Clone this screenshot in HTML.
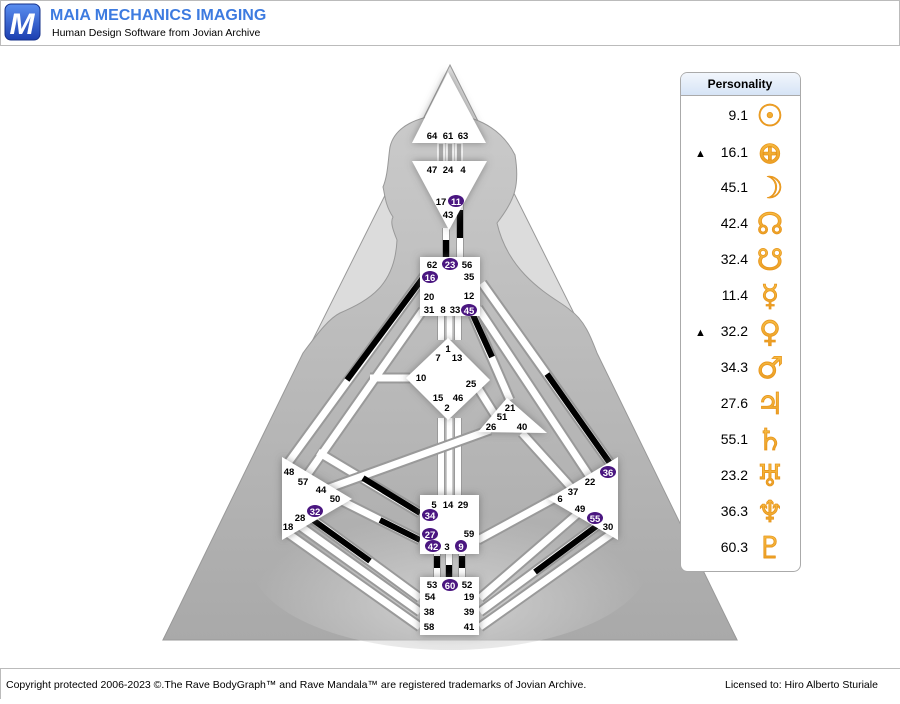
<!DOCTYPE html>
<html><head><meta charset="utf-8"><style>
body{margin:0;width:900px;height:699px;background:#fff;overflow:hidden;font-family:"Liberation Sans",sans-serif;}
</style></head><body>
<svg width="900" height="699" viewBox="0 0 900 699" xmlns="http://www.w3.org/2000/svg" font-family="Liberation Sans, sans-serif">
<defs>
<linearGradient id="lg" x1="0" y1="0" x2="0" y2="1"><stop offset="0" stop-color="#5a8ef0"/><stop offset="1" stop-color="#1c3fb0"/></linearGradient>
<linearGradient id="bd" x1="0" y1="0" x2="0" y2="1"><stop offset="0" stop-color="#cacaca"/><stop offset="1" stop-color="#a9a9a9"/></linearGradient>
<radialGradient id="rg" cx="0.5" cy="0.75" r="0.5"><stop offset="0" stop-color="#d0d0d0"/><stop offset="1" stop-color="#d0d0d0" stop-opacity="0"/></radialGradient>
<linearGradient id="ph" x1="0" y1="0" x2="0" y2="1"><stop offset="0" stop-color="#f2f6fc"/><stop offset="1" stop-color="#d6e4f6"/></linearGradient>
<linearGradient id="or" x1="0" y1="0" x2="0" y2="1"><stop offset="0" stop-color="#f9c24a"/><stop offset="1" stop-color="#e8961c"/></linearGradient>
<filter id="sh" x="-30%" y="-30%" width="160%" height="160%"><feDropShadow dx="0" dy="0" stdDeviation="4" flood-color="#555" flood-opacity="0.6"/></filter>
</defs>
<rect x="0.5" y="0.5" width="899" height="45" fill="#fff" stroke="#bbb"/>
<rect x="5" y="4" width="35" height="36" rx="6" fill="url(#lg)" stroke="#15308a"/>
<text x="22" y="34" font-size="30" font-weight="bold" fill="#fff" text-anchor="middle" font-style="italic">M</text>
<text x="50" y="20" font-size="16" font-weight="bold" fill="#3d7be0">MAIA MECHANICS IMAGING</text>
<text x="52" y="36" font-size="10.5" fill="#000">Human Design Software from Jovian Archive</text>
<line x1="0" y1="668.5" x2="900" y2="668.5" stroke="#bbb"/>
<line x1="0.5" y1="668" x2="0.5" y2="699" stroke="#bbb"/>
<text x="6" y="688" font-size="10.5" fill="#000">Copyright protected 2006-2023 ©.The Rave BodyGraph™ and Rave Mandala™ are registered trademarks of Jovian Archive.</text>
<text x="725" y="688" font-size="10.5" fill="#000">Licensed to: Hiro Alberto Sturiale</text>

<polygon points="450,65 737,640 163,640" fill="#dcdcdc" stroke="#999"/>
<path d="M303,353 C320,330 330,318 340,313 C370,300 395,285 397,240 C393,230 390,222 393,217 C385,205 385,195 383,187 C388,175 388,160 390,147 C395,125 420,117 440,115 C470,113 500,125 515,155 C520,185 515,200 497,223 C510,280 560,300 570,310 C585,320 592,340 597,353 L737,640 L163,640 Z" fill="url(#bd)" stroke="#999"/>
<ellipse cx="450" cy="560" rx="200" ry="90" fill="url(#rg)"/>

<g fill="none" stroke-linecap="butt">
<g stroke="#9a9a9a" stroke-width="11">
<path d="M425,275 L288,463"/><path d="M423,310 L305,478"/><path d="M410,378 L370,378"/>
<path d="M318,452 L420,513"/><path d="M340,500 L420,540"/><path d="M318,492 L490,430"/>
<path d="M478,388 L498,420"/><path d="M473,315 L510,400"/><path d="M482,283 L612,466"/>
<path d="M478,308 L592,480"/><path d="M522,433 L578,495"/><path d="M478,540 L555,498"/>
<path d="M300,510 L420,598 M293,521 L420,612 M286,532 L420,627"/>
<path d="M480,598 L582,510 M480,612 L602,522 M480,627 L614,532"/>
</g>
<g stroke="#fff" stroke-width="7">
<path d="M425,275 L288,463"/><path d="M423,310 L305,478"/><path d="M410,378 L370,378"/>
<path d="M318,452 L420,513"/><path d="M340,500 L420,540"/>
<path d="M478,388 L498,420"/><path d="M473,315 L510,400"/><path d="M482,283 L612,466"/>
<path d="M478,308 L592,480"/><path d="M522,433 L578,495"/><path d="M478,540 L555,498"/>
<path d="M300,510 L420,598 M293,521 L420,612 M286,532 L420,627"/>
<path d="M480,598 L582,510 M480,612 L602,522 M480,627 L614,532"/>
</g>
<g stroke="#9a9a9a" stroke-width="1">
<path d="M437.5,418 V495 M444.5,418 V495 M446.5,418 V495 M452.5,418 V495 M454.5,418 V495 M461.5,418 V495"/>
<path d="M437.5,316 V340 M444.5,316 V340 M446.5,316 V340 M452.5,316 V340 M454.5,316 V340 M461.5,316 V340"/>
<path d="M442.5,228 V257 M449.5,228 V257 M456.5,200 V257 M463.5,200 V257"/>
<path d="M433.5,554 V577 M440.5,554 V577 M445.5,554 V577 M452.5,554 V577 M458.5,554 V577 M465.5,554 V577"/>
</g>
<g stroke="#fff" stroke-width="6">
<path d="M441,418 V495 M449.5,418 V495 M458,418 V495"/>
<path d="M441,316 V340 M449.5,316 V340 M458,316 V340"/>
<path d="M446,228 V257 M460,200 V257"/>
<path d="M437,554 V577 M449,554 V577 M462,554 V577"/>
</g>
<g stroke="#9a9a9a" stroke-width="11"><path d="M318,492 L490,430"/></g>
<path d="M318,492 L490,430" stroke="#fff" stroke-width="7"/>
<g stroke="#000" stroke-width="6">
<path d="M425,275 L347,380"/><path d="M363,478 L420,513"/><path d="M380,520 L420,540"/>
<path d="M473,315 L492,357"/><path d="M547,374 L612,466"/>
<path d="M446,240 V257"/><path d="M460,210 V238"/>
<path d="M437,556 V568 M449,565 V577 M462,556 V568"/>
<path d="M313,520 L370,561"/><path d="M535,572 L602,522"/>
</g>
</g>
<g fill="#a8a8a8" stroke="#fff" stroke-width="1.5"><rect x="438" y="143" width="6" height="19"/><rect x="447" y="143" width="6" height="19"/><rect x="456" y="143" width="6" height="19"/></g>

<g fill="#fff" filter="url(#sh)">
<polygon points="448,72 486,143 412,143"/>
<polygon points="412,161 487,161 449,230"/>
<rect x="420" y="257" width="60" height="59"/>
<polygon points="448,338 490,380 448,420 406,378"/>
<polygon points="507,398 547,433 478,432"/>
<rect x="420" y="495" width="59" height="59"/>
<rect x="420" y="577" width="59" height="58"/>
<polygon points="282,457 352,499 282,540"/>
<polygon points="618,457 548,499 618,540"/>
</g>

<g font-size="9.5" font-weight="bold" fill="#000" text-anchor="middle">
<text x="432" y="139">64</text><text x="448" y="139">61</text><text x="463" y="139">63</text>
<text x="432" y="173">47</text><text x="448" y="173">24</text><text x="463" y="173">4</text>
<text x="441" y="205">17</text><text x="448" y="218">43</text>
<text x="432" y="268">62</text><text x="467" y="268">56</text><text x="469" y="280">35</text>
<text x="429" y="300">20</text><text x="469" y="299">12</text>
<text x="429" y="313">31</text><text x="443" y="313">8</text><text x="455" y="313">33</text>
<text x="448" y="352">1</text><text x="438" y="361">7</text><text x="457" y="361">13</text>
<text x="421" y="381">10</text><text x="471" y="387">25</text>
<text x="438" y="401">15</text><text x="458" y="401">46</text><text x="447" y="411">2</text>
<text x="510" y="411">21</text><text x="502" y="420">51</text><text x="491" y="430">26</text><text x="522" y="430">40</text>
<text x="434" y="508">5</text><text x="448" y="508">14</text><text x="463" y="508">29</text>
<text x="469" y="537">59</text><text x="447" y="550">3</text>
<text x="432" y="588">53</text><text x="467" y="588">52</text>
<text x="430" y="600">54</text><text x="469" y="600">19</text>
<text x="429" y="615">38</text><text x="469" y="615">39</text>
<text x="429" y="630">58</text><text x="469" y="630">41</text>
<text x="289" y="475">48</text><text x="303" y="485">57</text><text x="321" y="493">44</text><text x="335" y="502">50</text>
<text x="300" y="521">28</text><text x="288" y="530">18</text>
<text x="590" y="485">22</text><text x="573" y="495">37</text><text x="560" y="502">6</text>
<text x="580" y="512">49</text><text x="608" y="530">30</text>
</g>
<g font-size="9.5" font-weight="bold" fill="#fff" text-anchor="middle">
<g fill="#4a1680"><ellipse cx="456" cy="201" rx="8" ry="6"/><ellipse cx="450" cy="264" rx="8" ry="6"/><ellipse cx="430" cy="277" rx="8" ry="6"/><ellipse cx="469" cy="310" rx="8" ry="6"/><ellipse cx="430" cy="515" rx="8" ry="6"/><ellipse cx="430" cy="534" rx="8" ry="6"/><ellipse cx="433" cy="546" rx="8" ry="6"/><ellipse cx="461" cy="546" rx="6" ry="6"/><ellipse cx="450" cy="585" rx="8" ry="6"/><ellipse cx="315" cy="511" rx="8" ry="6"/><ellipse cx="608" cy="472" rx="8" ry="6"/><ellipse cx="595" cy="518" rx="8" ry="6"/></g>
<text x="456" y="205">11</text><text x="450" y="268">23</text><text x="430" y="281">16</text><text x="469" y="314">45</text><text x="430" y="519">34</text><text x="430" y="538">27</text><text x="433" y="550">42</text><text x="461" y="550">9</text><text x="450" y="589">60</text><text x="315" y="515">32</text><text x="608" y="476">36</text><text x="595" y="522">55</text>
</g>

<rect x="680.5" y="72.5" width="120" height="499" rx="7" fill="#fff" stroke="#aaa"/>
<path d="M681,95 V80 Q681,73 688,73 H793 Q800,73 800,80 V95 Z" fill="url(#ph)"/>
<line x1="681" y1="95.5" x2="800" y2="95.5" stroke="#aaa"/>
<text x="740" y="88" font-size="12" font-weight="bold" fill="#000" text-anchor="middle">Personality</text>
<g font-size="14" fill="#000" text-anchor="end">
<text x="748" y="120">9.1</text><text x="748" y="157">16.1</text><text x="748" y="192">45.1</text><text x="748" y="228">42.4</text><text x="748" y="264">32.4</text><text x="748" y="300">11.4</text><text x="748" y="336">32.2</text><text x="748" y="372">34.3</text><text x="748" y="408">27.6</text><text x="748" y="444">55.1</text><text x="748" y="480">23.2</text><text x="748" y="516">36.3</text><text x="748" y="552">60.3</text>
</g>
<g font-size="11" fill="#000"><text x="695" y="157">▲</text><text x="695" y="336">▲</text></g>
<g font-size="30" font-weight="bold" fill="url(#or)" stroke="#e8961c" stroke-width="0.8" text-anchor="middle" font-family="DejaVu Sans, sans-serif">
<text x="770" y="126">☉</text><text x="770" y="163">⊕</text><text x="770" y="198">☽</text><text x="770" y="234">☊</text><text x="770" y="270">☋</text><text x="770" y="306">☿</text><text x="770" y="342">♀</text><text x="770" y="378">♂</text><text x="770" y="414">♃</text><text x="770" y="450">♄</text><text x="770" y="486">♅</text><text x="770" y="522">♆</text><text x="770" y="558">♇</text>
</g>
</svg>
</body></html>
